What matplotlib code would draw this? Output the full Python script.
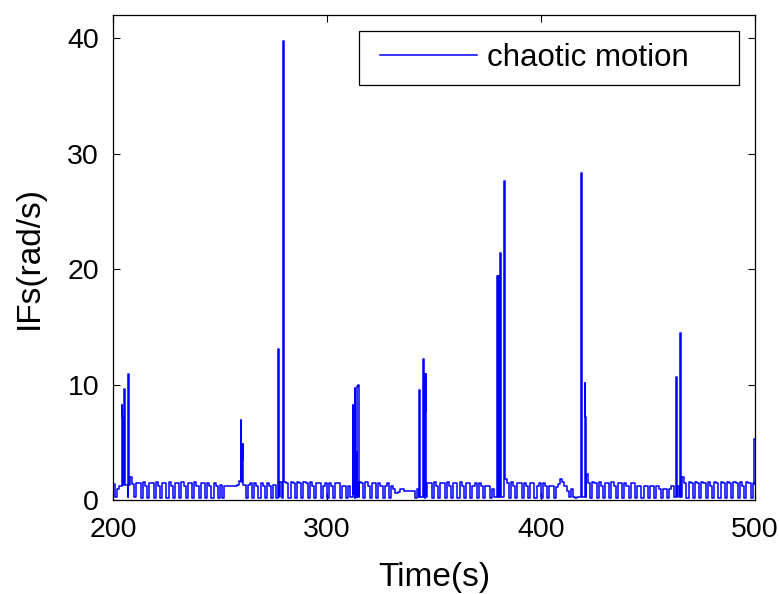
import numpy as np
import matplotlib
matplotlib.use("Agg")
import matplotlib.pyplot as plt
from matplotlib.patches import Rectangle

plt.rcParams['font.family'] = ['Liberation Sans', 'DejaVu Sans']

# Baseline IF values, one per second from t=200 s to t=499 s
base_200 = [1.4, 0.3, 1.0, 1.2, 1.3, 1.3, 1.3, 0.3, 2.0, 1.4]
base_210 = [0.3, 1.5, 1.5, 0.2, 1.6, 1.2, 0.2, 1.5, 1.5, 0.2]
base_220 = [1.6, 1.2, 0.2, 1.5, 1.5, 0.2, 1.6, 1.2, 0.2, 1.5]
base_230 = [1.5, 0.2, 1.6, 1.2, 0.2, 1.5, 1.5, 0.2, 1.6, 1.2]
base_240 = [0.2, 1.5, 1.5, 0.2, 1.5, 1.2, 0.2, 1.5, 1.2, 0.2]
base_250 = [1.3, 0.2, 1.2, 1.2, 1.2, 1.2, 1.2, 1.2, 1.3, 1.7]
base_260 = [1.6, 1.3, 0.2, 1.3, 1.5, 0.2, 1.5, 1.2, 0.2, 1.5]
base_270 = [1.2, 0.2, 1.5, 1.2, 0.2, 1.3, 0.2, 0.3, 1.6, 0.2]
base_280 = [1.6, 1.5, 0.2, 1.6, 1.5, 0.2, 1.6, 1.5, 0.2, 1.6]
base_290 = [1.5, 0.2, 1.6, 1.2, 0.2, 1.5, 1.5, 0.2, 1.2, 1.5]
base_300 = [0.2, 1.5, 1.2, 0.2, 1.5, 1.5, 0.2, 1.2, 1.2, 0.2]
base_310 = [1.2, 0.3, 0.3, 0.2, 0.3, 1.6, 1.5, 0.2, 1.6, 1.2]
base_320 = [0.2, 1.5, 1.5, 0.2, 1.5, 1.2, 0.2, 1.2, 1.5, 0.2]
base_330 = [1.2, 1.0, 0.6, 0.7, 1.0, 1.0, 0.8, 0.8, 0.8, 0.8]
base_340 = [0.8, 0.2, 1.0, 0.3, 0.3, 1.2, 0.2, 1.5, 1.5, 0.2]
base_350 = [1.6, 1.2, 0.2, 1.5, 1.5, 0.2, 1.6, 1.2, 0.2, 1.5]
base_360 = [1.5, 0.2, 1.6, 1.2, 0.2, 1.5, 1.5, 0.2, 1.2, 1.5]
base_370 = [0.2, 1.5, 1.2, 0.2, 1.2, 1.2, 0.2, 1.0, 0.3, 0.3]
base_380 = [0.3, 0.3, 0.3, 1.8, 1.5, 0.2, 1.6, 1.2, 0.2, 1.5]
base_390 = [1.5, 0.2, 1.5, 1.2, 0.2, 1.5, 1.5, 0.2, 1.2, 1.5]
base_400 = [0.2, 1.5, 1.2, 0.2, 1.2, 1.2, 0.2, 1.1, 1.4, 1.8]
base_410 = [1.6, 1.2, 0.8, 0.3, 1.0, 0.3, 0.2, 0.3, 0.3, 0.3]
base_420 = [0.3, 2.3, 1.5, 0.2, 1.6, 1.5, 0.2, 1.6, 1.2, 0.2]
base_430 = [1.5, 1.5, 0.2, 1.6, 1.2, 0.2, 1.5, 1.5, 0.2, 1.5]
base_440 = [1.2, 0.2, 1.5, 1.5, 0.2, 1.2, 1.2, 0.2, 1.2, 1.2]
base_450 = [0.2, 1.2, 1.2, 0.2, 1.2, 1.0, 0.2, 1.0, 1.0, 0.2]
base_460 = [1.0, 1.2, 0.3, 0.3, 1.2, 0.3, 2.0, 1.5, 0.2, 1.6]
base_470 = [1.5, 0.2, 1.6, 1.5, 0.2, 1.6, 1.5, 0.2, 1.6, 1.2]
base_480 = [0.2, 1.6, 1.5, 0.2, 1.6, 1.5, 0.2, 1.6, 1.5, 0.2]
base_490 = [1.6, 1.5, 0.2, 1.6, 1.2, 0.2, 1.6, 1.5, 0.2, 1.5]

# Spike samples (time in s, IF in rad/s); each holds until the next sample
spike_t = [204.1, 204.2, 204.3, 204.4, 204.5, 205.1, 205.5, 207.0, 207.5,
           259.8, 260.3, 260.5, 260.7, 260.9,
           277.3, 277.7, 279.7,
           312.1, 312.4, 313.0, 313.3, 313.6, 314.0, 314.5, 314.8,
           343.0, 343.4, 345.1, 345.5, 345.9, 346.0, 346.1, 346.3,
           379.6, 379.8, 380.0, 380.2, 380.4, 381.1, 381.5, 382.9,
           418.7, 419.1, 420.5, 420.6, 420.7, 420.8, 420.9,
           463.1, 463.5, 465.2, 465.6,
           499.7, 499.8]
spike_y = [8.2, 7.2, 8.2, 7.2, 1.3, 9.6, 1.3, 10.9, 1.3,
           6.9, 4.9, 3.5, 4.9, 1.5,
           13.1, 0.3, 39.7,
           8.2, 0.5, 9.7, 0.3, 4.2, 9.9, 10.0, 0.3,
           9.5, 0.3, 12.2, 0.3, 10.9, 7.7, 10.9, 0.3,
           19.4, 11.4, 19.4, 11.4, 0.3, 21.4, 0.3, 27.6,
           28.3, 0.3, 10.1, 7.2, 9.2, 7.2, 0.3,
           10.7, 0.3, 14.5, 0.3,
           1.4, 5.3]

x_ticks = [200, 300, 400, 500]
y_ticks = [0, 10, 20, 30, 40]

base = (base_200 + base_210 + base_220 + base_230 + base_240 + base_250 +
        base_260 + base_270 + base_280 + base_290 + base_300 + base_310 +
        base_320 + base_330 + base_340 + base_350 + base_360 + base_370 +
        base_380 + base_390 + base_400 + base_410 + base_420 + base_430 +
        base_440 + base_450 + base_460 + base_470 + base_480 + base_490)
base_t = 200 + np.arange(len(base))

t_all = np.concatenate([base_t, np.array(spike_t), [500.0]])
y_all = np.concatenate([np.array(base), np.array(spike_y), [5.3]])
order = np.argsort(t_all, kind='stable')
t_all = t_all[order]
y_all = y_all[order]

fig = plt.figure(figsize=(7.79, 5.94), dpi=100)
ax = fig.add_axes([0.145, 0.158, 0.824, 0.817])
ax.plot(t_all, y_all, color='#0000ff', linewidth=1.1, drawstyle='steps-post',
        label='chaotic motion')

ax.set_xlim(200, 500)
ax.set_ylim(0, 42)
ax.set_xticks(x_ticks)
ax.set_yticks(y_ticks)
ax.tick_params(direction='in', top=True, right=True, length=5, width=0.8,
               labelsize=20.5)
ax.tick_params(axis='x', pad=12)
ax.tick_params(axis='y', pad=10)
for s in ax.spines.values():
    s.set_linewidth(0.9)
ax.set_xlabel('Time(s)', fontsize=24, labelpad=14)
ax.set_ylabel('IFs(rad/s)', fontsize=24, labelpad=16)

# legend box (MATLAB style, wide right padding)
ax.add_patch(Rectangle((0.383, 0.856), 0.592, 0.111, transform=ax.transAxes,
                       facecolor='white', edgecolor='black', linewidth=0.9,
                       zorder=4))
leg = ax.legend(loc='center left', bbox_to_anchor=(0.416, 0.911),
                fontsize=22.5, frameon=False, handlelength=3.1,
                handletextpad=0.32, borderpad=0, borderaxespad=0)
leg.set_zorder(5)

fig.savefig('out.png', dpi=100)
